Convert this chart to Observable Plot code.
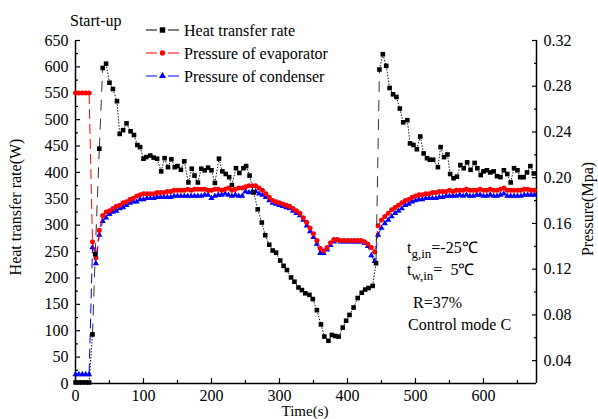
<!DOCTYPE html>
<html><head><meta charset="utf-8">
<script src="https://cdn.jsdelivr.net/npm/d3@7"></script>
<script src="https://cdn.jsdelivr.net/npm/@observablehq/plot@0.6"></script>
<style>
body{margin:0;background:#fff}
#chart{width:598px;height:419px;position:relative}
</style>
</head><body><div id="chart"></div>
<script>
// ---- data ----
const heatTime = [0,5,10,15,20,25,29,35,40,45,
50,55,61,65,70,75,81,86,91,95,
100,104,110,115,120,126,131,136,141,146,
150,155,160,166,171,175,180,185,190,195,
200,205,211,216,221,226,230,236,241,247,
251,256,262,268,274,279,285,290,295,301,
306,311,317,322,328,333,338,344,349,355,
361,366,372,377,382,387,393,398,403,409,
415,421,426,431,437,442,447,452,457,462,
467,472,477,482,488,492,497,502,507,512,
517,521,526,533,537,542,547,551,556,561,
566,571,576,581,587,591,596,600,605,610,
615,620,625,630,635,640,645,650,654,659,
664,669,674];
const heatRate = [2,2,2,2,2,93,245,445,598,606,
570,558,535,473,480,493,478,471,452,448,
426,429,432,428,426,402,427,410,425,410,
412,405,421,381,407,394,381,407,404,409,
404,380,426,402,397,391,376,408,399,408,
412,394,362,330,305,281,263,252,248,233,
223,215,201,193,182,177,171,168,160,139,
112,89,81,92,90,89,106,119,130,144,
162,172,178,181,185,228,595,624,602,560,
548,543,521,495,499,455,452,444,468,436,
427,424,424,410,448,429,434,397,389,392,
414,408,419,405,418,408,395,402,404,400,
402,393,391,404,397,381,408,404,391,391,
400,412,398];

const pressTime = [0,5,10,15,20,25,30,35,40,45,
50,55,60,65,70,75,80,85,90,95,
100,105,110,115,120,125,130,135,140,145,
150,155,160,165,170,175,180,185,190,195,
200,205,210,215,220,225,230,235,240,245,
250,255,260,265,270,275,280,285,290,295,
300,305,310,315,320,325,330,335,340,345,
350,355,360,365,370,375,380,385,390,395,
400,405,410,415,420,425,430,435,440,445,
450,455,460,465,470,475,480,485,490,495,
500,505,510,515,520,525,530,535,540,545,
550,555,560,565,570,575,580,585,590,595,
600,605,610,615,620,625,630,635,640,645,
650,655,660,665,670,675];
const pressEvap = [.274,.274,.274,.274,.274,.144,.130,.154,.167,.170,
.171,.173,.175,.176,.178,.179,.181,.182,.184,.185,
.186,.186,.186,.186,.187,.187,.187,.188,.188,.189,
.189,.189,.189,.190,.189,.190,.190,.190,.190,.189,
.189,.190,.190,.189,.190,.191,.189,.190,.191,.191,
.192,.193,.193,.193,.191,.189,.186,.183,.180,.179,
.178,.177,.176,.175,.173,.171,.169,.165,.161,.156,
.151,.145,.138,.136,.139,.143,.146,.146,.145,.145,
.145,.145,.145,.145,.145,.144,.142,.139,.135,.158,
.163,.166,.169,.172,.174,.176,.178,.180,.181,.183,
.184,.185,.185,.186,.186,.187,.187,.188,.188,.188,
.189,.188,.189,.189,.189,.190,.189,.189,.189,.190,
.189,.189,.190,.189,.189,.190,.191,.189,.189,.189,
.189,.189,.190,.190,.189,.189];
const pressCond = [.028,.028,.028,.028,.028,.139,.125,.150,.162,.165,
.168,.170,.171,.173,.174,.176,.178,.179,.179,.181,
.181,.182,.182,.182,.183,.183,.183,.183,.183,.184,
.184,.184,.184,.184,.184,.184,.184,.184,.185,.185,
.182,.184,.185,.185,.186,.185,.184,.185,.184,.184,
.188,.187,.188,.188,.186,.185,.183,.180,.178,.177,
.176,.175,.174,.173,.171,.169,.167,.163,.158,.153,
.148,.142,.134,.134,.137,.141,.144,.145,.144,.144,
.144,.144,.144,.144,.144,.143,.140,.132,.127,.150,
.156,.160,.163,.166,.169,.171,.173,.176,.177,.179,
.180,.181,.181,.182,.182,.182,.182,.183,.183,.184,
.184,.184,.184,.185,.184,.185,.184,.184,.185,.185,
.184,.184,.185,.184,.184,.185,.186,.184,.184,.184,
.184,.184,.185,.185,.185,.185];

const leftTicks = [0,50,100,150,200,250,300,350,400,450,500,550,600,650];
const leftMinor = [25,75,125,175,225,275,325,375,425,475,525,575,625];
const rightTicks = [0.04,0.08,0.12,0.16,0.20,0.24,0.28,0.32];
const rightMinor = [0.06,0.10,0.14,0.18,0.22,0.26,0.30];
const timeTicks = [0,100,200,300,400,500,600];
const timeMinor = [50,150,250,350,450,550,650];
const seriesNames = ["Heat transfer rate","Pressure of evaporator","Pressure of condenser"];
const seriesColors = ["#000000","#ff0000","#0000ff"];

// ---- scales ----
const leftDomain = [0, 650];
const rightDomain = [0.02, 0.32];
const timeDomain = [0, 678];
const toLeft = p => (p - rightDomain[0]) / (rightDomain[1] - rightDomain[0]) * (leftDomain[1] - leftDomain[0]) + leftDomain[0];
const fromLeft = v => (v - leftDomain[0]) / (leftDomain[1] - leftDomain[0]) * (rightDomain[1] - rightDomain[0]) + rightDomain[0];

const heat = heatTime.map((t, i) => ({t, v: heatRate[i]}));
const evap = pressTime.map((t, i) => ({t, v: toLeft(pressEvap[i])}));
const cond = pressTime.map((t, i) => ({t, v: toLeft(pressCond[i])}));
const segs = heat.slice(1).map((d, i) => ({x1: heat[i].t, y1: heat[i].v, x2: d.t, y2: d.v}));
const jumpSegs = segs.filter(s => Math.abs(s.y2 - s.y1) > 100);
const stepSegs = segs.filter(s => Math.abs(s.y2 - s.y1) <= 100);

const FONT = "Liberation Serif, Times New Roman, serif";

const plot = Plot.plot({
  width: 598, height: 419,
  marginLeft: 75, marginRight: 62, marginTop: 40, marginBottom: 36,
  style: {fontFamily: FONT, fontSize: "16px", color: "#000", background: "#fff", overflow: "visible"},
  x: {domain: timeDomain},
  y: {domain: leftDomain},
  marks: [
    Plot.axisY(leftTicks, {anchor: "left", tickSize: -5, tickPadding: 12, label: null, strokeWidth: 1.2}),
    Plot.axisY(leftMinor, {anchor: "left", tickSize: -3, tickFormat: () => "", label: null, strokeWidth: 1.2}),
    Plot.axisY(rightTicks.map(toLeft), {anchor: "right", tickSize: -5, tickPadding: 12, label: null, strokeWidth: 1.2,
      tickFormat: v => fromLeft(v).toFixed(2)}),
    Plot.axisY(rightMinor.map(toLeft), {anchor: "right", tickSize: -3, tickFormat: () => "", label: null, strokeWidth: 1.2}),
    Plot.axisX(timeTicks, {anchor: "bottom", tickSize: -5, tickPadding: 11, label: null, strokeWidth: 1.2}),
    Plot.axisX(timeMinor, {anchor: "bottom", tickSize: -3, tickFormat: () => "", label: null, strokeWidth: 1.2}),
    Plot.ruleX([timeDomain[0], timeDomain[1]], {strokeWidth: 1.5}),
    Plot.ruleY([leftDomain[0]], {strokeWidth: 1.5}),
    Plot.line(cond, {x: "t", y: "v", stroke: seriesColors[2], strokeWidth: 1, strokeDasharray: "9,6"}),
    Plot.dot(cond, {x: "t", y: "v", symbol: "triangle", r: 2.3, fill: seriesColors[2]}),
    Plot.line(evap, {x: "t", y: "v", stroke: seriesColors[1], strokeWidth: 1, strokeDasharray: "9,6"}),
    Plot.dot(evap, {x: "t", y: "v", symbol: "circle", r: 2.5, fill: seriesColors[1]}),
    Plot.link(stepSegs, {x1: "x1", y1: "y1", x2: "x2", y2: "y2", stroke: "#000", strokeWidth: 0.9, strokeDasharray: "1.5,1.5"}),
    Plot.link(jumpSegs, {x1: "x1", y1: "y1", x2: "x2", y2: "y2", stroke: "#333", strokeWidth: 1, strokeDasharray: "11,8"}),
    Plot.dot(heat, {x: "t", y: "v", symbol: "square", r: 2.6, fill: seriesColors[0]})
  ]
});
document.getElementById("chart").appendChild(plot);

// ---- texts, legend ----
const svg = d3.select(plot);
const g = svg.append("g").attr("font-family", FONT).attr("font-size", 16).attr("fill", "#000").attr("text-anchor", "start");

g.append("text").attr("transform", "translate(21,207) rotate(-90)").attr("text-anchor", "middle").text("Heat transfer rate(W)");
g.append("text").attr("transform", "translate(593,209) rotate(-90)").attr("text-anchor", "middle").text("Pressure(Mpa)");
g.append("text").attr("x", 305).attr("y", 416).attr("font-size", 15).attr("text-anchor", "middle").text("Time(s)");
g.append("text").attr("x", 70).attr("y", 26).text("Start-up");

const legendY = [30, 53, 76];
const symbols = [d3.symbolSquare, d3.symbolCircle, d3.symbolTriangle];
const symSize = [30, 22, 22];
seriesNames.forEach((name, i) => {
  const y = legendY[i];
  const lg = g.append("g").attr("transform", `translate(0,${y})`);
  lg.append("line").attr("x1", 146).attr("x2", 157).attr("y1", 0).attr("y2", 0).attr("stroke", seriesColors[i]).attr("stroke-width", 1);
  lg.append("line").attr("x1", 168).attr("x2", 179).attr("y1", 0).attr("y2", 0).attr("stroke", seriesColors[i]).attr("stroke-width", 1);
  lg.append("path").attr("transform", "translate(162.5,0)").attr("d", d3.symbol(symbols[i], symSize[i])()).attr("fill", seriesColors[i]);
  lg.append("text").attr("x", 184).attr("y", 5.5).text(name);
});

function subText(x, y, main, sub, rest) {
  const t = g.append("text").attr("x", x).attr("y", y);
  t.append("tspan").text(main);
  t.append("tspan").attr("font-size", 13).attr("dy", 5).text(sub);
  t.append("tspan").attr("dy", -5).text(rest);
}
subText(407, 253, "t", "g,in", "=-25℃");
subText(407, 275, "t", "w,in", "=\u00a0 5℃");
g.append("text").attr("x", 413).attr("y", 308).text("R=37%");
g.append("text").attr("x", 408).attr("y", 330).text("Control mode C");
</script>
</body></html>
